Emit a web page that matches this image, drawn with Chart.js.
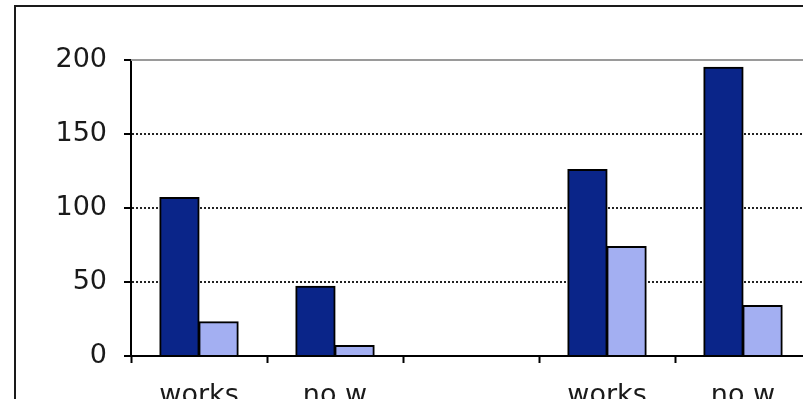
<!DOCTYPE html>
<html>
<head>
<meta charset="utf-8">
<script src="https://cdn.jsdelivr.net/npm/chart.js@4/dist/chart.umd.min.js"></script>
<style>
    html, body { margin: 0; padding: 0; background: #fff; overflow: hidden; width: 803px; height: 399px; }
    #frame { position: absolute; left: 14px; top: 5px; border: 2px solid #1a1a1a; width: 800px; height: 420px; }
    #myChart { display: block; }
</style>
</head>
<body>
<div id="frame"><canvas id="myChart" width="800" height="420"></canvas></div>
<script>
// Données
const categories = ['works', 'no w', '', 'works', 'no w'];
const seriesDark = [107, 47, null, 126, 195];
const seriesLight = [23, 7, null, 74, 34];
const yTicks = [0, 50, 100, 150, 200];

const FONT = { family: "'DejaVu Sans', Verdana, sans-serif", size: 27 };

/**
 * Trait gris en haut de la zone de tracé (bordure du plot Excel).
 */
const topLine = {
    id: 'topLine',
    beforeDatasetsDraw(chart) {
        const { ctx, chartArea } = chart;
        ctx.save();
        ctx.strokeStyle = '#9a9a9a';
        ctx.lineWidth = 2;
        ctx.beginPath();
        ctx.moveTo(chartArea.left, chartArea.top);
        ctx.lineTo(chartArea.right + 20, chartArea.top);
        ctx.stroke();
        ctx.restore();
    }
};

function createChart()
{
    const ctx = document.getElementById('myChart').getContext('2d');

    const datasetDark = {
        label: 'A',
        data: seriesDark,
        backgroundColor: '#0a2589',
        borderColor: '#000',
        borderWidth: 2,
        inflateAmount: 0.6,
    };

    const datasetLight = {
        label: 'B',
        data: seriesLight,
        backgroundColor: '#a3aff2',
        borderColor: '#000',
        borderWidth: 2,
        inflateAmount: 0.6,
    };

    const config = {
        type: 'bar',
        data: {
            labels: categories,
            datasets: [datasetDark, datasetLight],
        },
        plugins: [topLine],
        options: {
            responsive: false,
            animation: false,
            categoryPercentage: 0.575,
            barPercentage: 1.0,
            layout: { padding: { top: 53, right: 5, left: 0, bottom: 0 } },
            plugins: {
                legend: { display: false },
                tooltip: { enabled: false },
                title: { display: false },
            },
            scales: {
                x: {
                    grid: {
                        offset: true,
                        drawOnChartArea: false,
                        drawTicks: true,
                        tickLength: 7,
                        tickColor: '#000',
                        tickWidth: 2,
                    },
                    border: { display: true, color: '#000', width: 2 },
                    ticks: {
                        color: '#1a1a1a',
                        font: FONT,
                        padding: 17,
                        maxRotation: 0,
                        autoSkip: false,
                    },
                    afterFit(scale) { scale.height = 71; },
                },
                y: {
                    min: 0,
                    max: 200,
                    afterBuildTicks(scale) { scale.ticks = yTicks.map(v => ({ value: v })); },
                    grid: {
                        drawTicks: true,
                        tickLength: 7,
                        tickColor: '#000',
                        tickWidth: 2,
                        tickBorderDash: [],
                        lineWidth: 2,
                        color: (c) => (c.tick && (c.tick.value === 0 || c.tick.value === 200)) ? 'rgba(0,0,0,0)' : '#222',
                    },
                    border: { display: true, color: '#000', width: 2, dash: [2, 2] },
                    ticks: {
                        color: '#1a1a1a',
                        font: FONT,
                        padding: 17,
                    },
                    afterFit(scale) { scale.width = 115; },
                },
            },
        },
    };

    return new Chart(ctx, config);
}

createChart();
</script>
</body>
</html>
